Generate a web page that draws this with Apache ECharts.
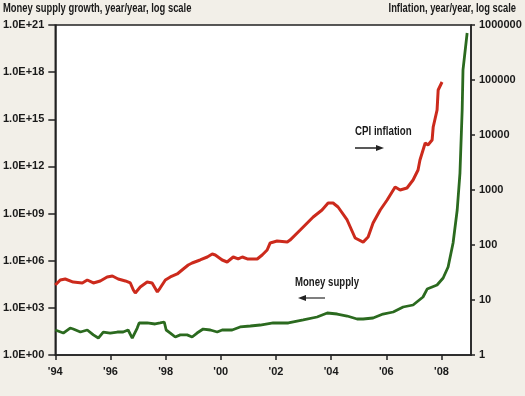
<!DOCTYPE html>
<html>
<head>
<meta charset="utf-8">
<script src="https://cdn.jsdelivr.net/npm/echarts@6/dist/echarts.min.js"></script>
<style>
  html, body { margin: 0; padding: 0; background: #f2efe8; }
  #chart { width: 525px; height: 396px; }
</style>
</head>
<body>
<div id="chart"></div>
<script>
// money supply growth, year/year (left log axis)
const moneyYears = [
  1994.00, 1994.29, 1994.54, 1994.65, 1994.91, 1995.16, 1995.38, 1995.56, 1995.74, 1995.99,
  1996.25, 1996.46, 1996.64, 1996.79, 1996.86, 1996.97, 1997.04, 1997.33, 1997.62, 1997.80,
  1997.95, 1998.02, 1998.17, 1998.35, 1998.53, 1998.78, 1998.96, 1999.14, 1999.36, 1999.62,
  1999.87, 2000.05, 2000.41, 2000.70, 2001.07, 2001.43, 2001.90, 2002.45, 2002.99, 2003.49,
  2003.86, 2004.22, 2004.58, 2004.94, 2005.16, 2005.52, 2005.88, 2006.25, 2006.61, 2006.97,
  2007.33, 2007.48, 2007.84, 2008.06, 2008.24, 2008.42, 2008.57, 2008.67, 2008.75, 2008.78,
  2008.93
]
const moneyValues = [
  39, 25, 52, 45, 29, 39, 19, 12, 29, 25,
  29, 29, 39, 12, 10, 52, 109, 109, 94, 109,
  126, 39, 25, 14, 19, 19, 14, 25, 45, 39,
  29, 39, 39, 61, 70, 81, 109, 109, 169, 262,
  471, 406, 303, 195, 195, 226, 406, 545, 1134, 1520,
  4910, 15800, 28500, 79400, 398000, 1.34e7, 1.69e9, 3.8e11, 3.9e15, 1.4e18,
  3.1e20
]

// CPI inflation, year/year (right log axis)
const cpiYears = [
  1994.00, 1994.18, 1994.36, 1994.65, 1994.98, 1995.16, 1995.38, 1995.63, 1995.88, 1996.07,
  1996.28, 1996.54, 1996.72, 1996.83, 1996.90, 1997.08, 1997.33, 1997.51, 1997.70, 1997.80,
  1997.99, 1998.17, 1998.42, 1998.64, 1998.82, 1998.96, 1999.25, 1999.51, 1999.69, 1999.80,
  2000.05, 2000.23, 2000.45, 2000.63, 2000.78, 2000.96, 2001.32, 2001.50, 2001.68, 2001.79,
  2002.04, 2002.41, 2002.51, 2002.88, 2003.35, 2003.67, 2003.89, 2004.07, 2004.25, 2004.58,
  2004.87, 2005.16, 2005.34, 2005.52, 2005.78, 2006.03, 2006.32, 2006.50, 2006.75, 2006.97,
  2007.15, 2007.22, 2007.41, 2007.51, 2007.66, 2007.70, 2007.84, 2007.88, 2008.02
]
const cpiValues = [
  18.7, 23.1, 24.1, 21.2, 20.4, 23.1, 20.4, 22.2, 26.2, 27.3,
  24.1, 22.2, 20.4, 15.2, 13.4, 17.2, 21.2, 20.4, 14.0, 16.5,
  23.1, 26.2, 29.7, 36.6, 43.3, 47.1, 53.4, 60.5, 68.6, 65.8,
  53.4, 49.1, 60.5, 55.7, 60.5, 55.7, 55.7, 65.8, 81.1, 109,
  118, 113, 123, 187, 323, 433, 580, 580, 491, 285,
  134, 113, 140, 251, 433, 658, 1134, 1000, 1088, 1520,
  2310, 3510, 7160, 6580, 8110, 14000, 28500, 65800, 92000
]

const yearMin = 1994
const yearMax = 2009.07
const font = '"Liberation Sans", Arial, sans-serif'
const textColor = '#1a1a1a'

function pairs(xs, ys) {
  return xs.map(function(x, i) { return [x, ys[i]] })
}

// the source uses a condensed face, so free text gets squeezed sideways
function label(text, x, y, squeeze, align) {
  return {
    type: 'text',
    x: x,
    y: y,
    scaleX: squeeze,
    style: {
      text: text,
      fill: textColor,
      font: 'bold 12px ' + font,
      align: align || 'left',
      verticalAlign: 'middle'
    }
  }
}

const axisText = {
  color: textColor,
  fontFamily: font,
  fontSize: 11,
  fontWeight: 'bold'
}

const chart = echarts.init(document.getElementById('chart'))
const option = {
  backgroundColor: '#f2efe8',
  animation: false,
  grid: {
    left: 55,
    right: 54,
    top: 25,
    bottom: 41,
    show: true,
    backgroundColor: '#ffffff',
    borderColor: '#222',
    borderWidth: 1.5
  },
  xAxis: {
    type: 'value',
    min: yearMin,
    max: yearMax,
    interval: 2,
    splitLine: { show: false },
    axisLine: { lineStyle: { color: '#222', width: 1.5 } },
    axisTick: { length: 5, lineStyle: { color: '#222', width: 1.5 } },
    axisLabel: Object.assign({
      margin: 11,
      showMaxLabel: false,
      formatter: function(v) {
        return "'" + String(Math.round(v)).slice(2)
      }
    }, axisText)
  },
  yAxis: [
    {
      type: 'log',
      logBase: 10,
      min: 1,
      max: 1e21,
      interval: 3,
      splitLine: { show: false },
      axisLine: { show: true, lineStyle: { color: '#222', width: 1.5 } },
      axisTick: { show: true, length: 7, lineStyle: { color: '#222', width: 1.5 } },
      axisLabel: Object.assign({
        margin: 11,
        formatter: function(v) {
          const e = Math.round(Math.log10(v))
          return '1.0E+' + (e < 10 ? '0' + e : e)
        }
      }, axisText)
    },
    {
      type: 'log',
      logBase: 10,
      min: 1,
      max: 1e6,
      interval: 1,
      position: 'right',
      splitLine: { show: false },
      axisLine: { show: true, lineStyle: { color: '#222', width: 1.5 } },
      axisTick: { show: true, length: 4, lineStyle: { color: '#222', width: 1.5 } },
      axisLabel: Object.assign({
        margin: 8,
        formatter: function(v) {
          return String(Math.round(v))
        }
      }, axisText)
    }
  ],
  series: [
    {
      name: 'Money supply',
      type: 'line',
      yAxisIndex: 0,
      showSymbol: false,
      lineStyle: { color: '#2b6a1f', width: 2.8 },
      itemStyle: { color: '#2b6a1f' },
      data: pairs(moneyYears, moneyValues)
    },
    {
      name: 'CPI inflation',
      type: 'line',
      yAxisIndex: 1,
      showSymbol: false,
      lineStyle: { color: '#cc2a1c', width: 3 },
      itemStyle: { color: '#cc2a1c' },
      data: pairs(cpiYears, cpiValues)
    }
  ],
  graphic: [
    label('Money supply growth, year/year, log scale', 3, 9, 0.785),
    label('Inflation, year/year, log scale', 516, 9, 0.78, 'right'),
    label('CPI inflation', 355, 132, 0.81),
    {
      type: 'line',
      shape: { x1: 355, y1: 148, x2: 378, y2: 148 },
      style: { stroke: '#222', lineWidth: 1.5 }
    },
    {
      type: 'polygon',
      shape: { points: [[376, 145], [384, 148], [376, 151]] },
      style: { fill: '#222' }
    },
    label('Money supply', 295, 283, 0.8),
    {
      type: 'line',
      shape: { x1: 304, y1: 298, x2: 325, y2: 298 },
      style: { stroke: '#555', lineWidth: 1.5 }
    },
    {
      type: 'polygon',
      shape: { points: [[298, 298], [306, 295], [306, 301]] },
      style: { fill: '#222' }
    }
  ]
}
chart.setOption(option, true)
</script>
</body>
</html>
